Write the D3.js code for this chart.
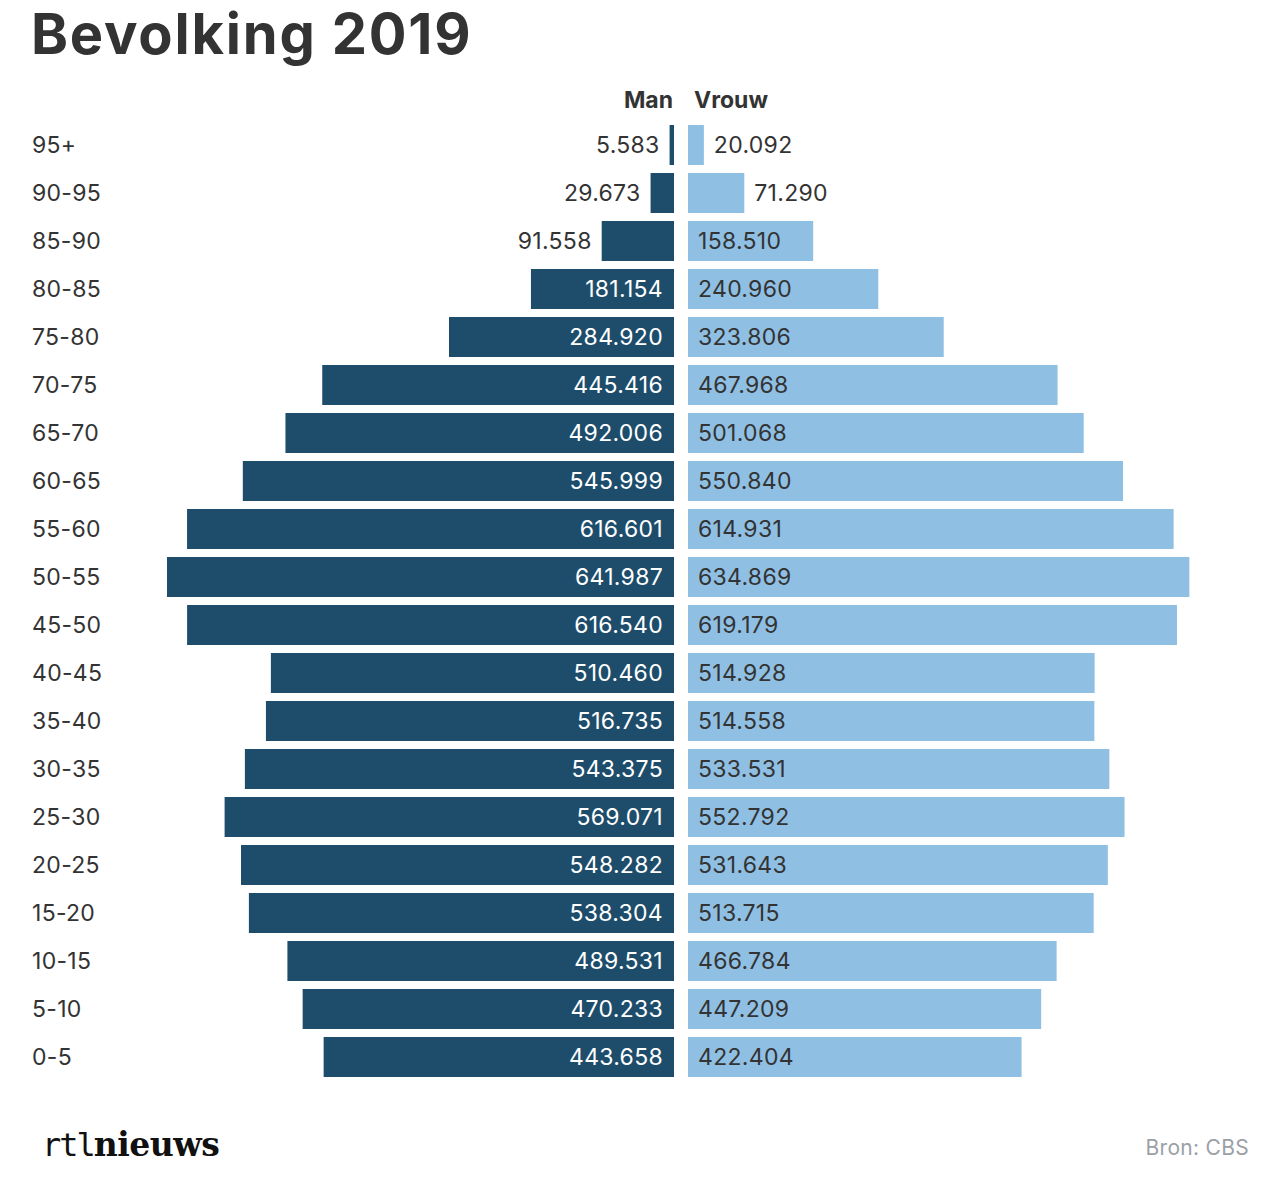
<!DOCTYPE html>
<html><head><meta charset="utf-8">
<script src="https://cdn.jsdelivr.net/npm/d3@7"></script>
<style>
body{margin:0;background:#fff;}
svg{display:block;font-family:Inter,"Noto Sans",sans-serif;}
</style></head><body>
<svg id="c" width="1275" height="1179"></svg>
<script>
const ageGroups = ["95+","90-95","85-90","80-85","75-80","70-75","65-70","60-65","55-60","50-55","45-50","40-45","35-40","30-35","25-30","20-25","15-20","10-15","5-10","0-5"];
const men = [5583,29673,91558,181154,284920,445416,492006,545999,616601,641987,616540,510460,516735,543375,569071,548282,538304,489531,470233,443658];
const women = [20092,71290,158510,240960,323806,467968,501068,550840,614931,634869,619179,514928,514558,533531,552792,531643,513715,466784,447209,422404];
const seriesNames = ["Man","Vrouw"];
const title = "Bevolking 2019";
const source = "Bron: CBS";

const svg = d3.select("#c");
const dark = "#1e4d6b", light = "#8fc0e4", textCol = "#333333";
const fmt = v => d3.format(",")(v).replace(/,/g,".");

svg.append("text").attr("x",31).attr("y",54).attr("font-size",56).attr("font-weight",700)
  .attr("fill",textCol).attr("letter-spacing",1.8).text(title);

const y = d3.scaleBand().domain(ageGroups).range([121,1081]).paddingInner(8/48).paddingOuter(4/48);
const maxV = 642000;
const xMan = d3.scaleLinear().domain([0,maxV]).range([674,167]);
const xWom = d3.scaleLinear().domain([0,maxV]).range([688,1195]);

svg.append("text").attr("x",673).attr("y",108).attr("text-anchor","end").attr("font-size",23).attr("font-weight",700).attr("fill",textCol).text(seriesNames[0]);
svg.append("text").attr("x",694).attr("y",108).attr("font-size",23).attr("font-weight",700).attr("fill",textCol).text(seriesNames[1]);

const fs = 23;
const ls = 0.3;
ageGroups.forEach((g,i)=>{
  const yc = y(g)+y.bandwidth()/2;
  svg.append("text").attr("x",32).attr("y",yc).attr("dy","0.36em").attr("font-size",fs).attr("letter-spacing",ls).attr("fill",textCol).text(g);
  // men
  const x0 = xMan(men[i]);
  svg.append("rect").attr("x",x0).attr("y",y(g)).attr("width",674-x0).attr("height",y.bandwidth()).attr("fill",dark);
  const wM = 674-x0;
  const insideM = wM > 100;
  svg.append("text").attr("x", insideM ? 663 : x0-10).attr("y",yc).attr("dy","0.36em")
    .attr("text-anchor","end").attr("font-size",fs).attr("letter-spacing",ls).attr("fill", insideM ? "#fff" : textCol).text(fmt(men[i]));
  // women
  const x1 = xWom(women[i]);
  svg.append("rect").attr("x",688).attr("y",y(g)).attr("width",x1-688).attr("height",y.bandwidth()).attr("fill",light);
  const wW = x1-688;
  const insideW = wW > 100;
  svg.append("text").attr("x", insideW ? 698 : x1+10).attr("y",yc).attr("dy","0.36em")
    .attr("font-size",fs).attr("letter-spacing",ls).attr("fill",textCol).text(fmt(women[i]));
});

// logo
const logo = svg.append("text").attr("x",42).attr("y",1156);
logo.append("tspan").attr("font-family","'DejaVu Sans Mono',monospace").attr("font-weight",300).attr("font-size",32).attr("fill","#111").attr("letter-spacing",-2).text("rtl");
logo.append("tspan").attr("font-family","'DejaVu Serif',serif").attr("font-weight",700).attr("font-size",33).attr("fill","#111").attr("letter-spacing",-0.5).text("nieuws");

svg.append("text").attr("x",1249).attr("y",1155).attr("text-anchor","end").attr("font-size",21).attr("letter-spacing",0.3).attr("fill","#9aa0a6").text(source);
</script>
</body></html>
